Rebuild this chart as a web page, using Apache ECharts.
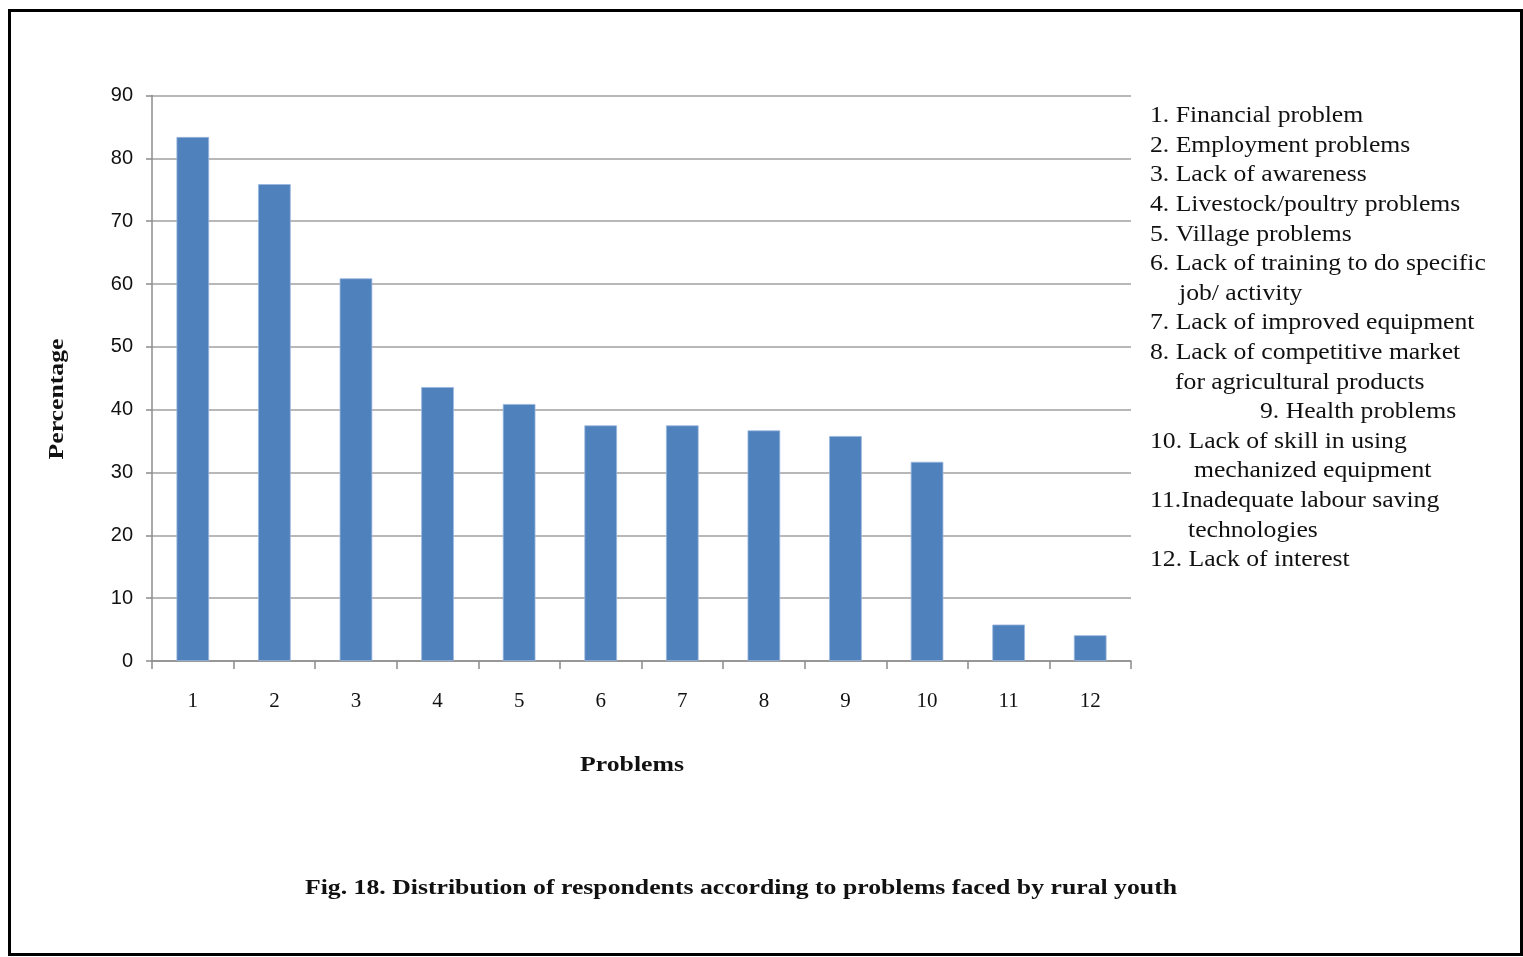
<!DOCTYPE html>
<html>
<head>
<meta charset="utf-8">
<script src="https://cdn.jsdelivr.net/npm/echarts@6/dist/echarts.min.js"></script>
<style>
  html, body { margin: 0; padding: 0; background: #fff; }
  #frame { position: absolute; left: 8px; top: 9px; width: 1509px; height: 941px; border: 3px solid #000; box-sizing: content-box; }
  #chart { position: absolute; left: 0; top: 0; width: 1523px; height: 957px; }
</style>
</head>
<body>
<div id="frame"></div>
<div id="chart"></div>
<script>
// Problem numbers along the x axis
const categories = ['1', '2', '3', '4', '5', '6', '7', '8', '9', '10', '11', '12'];
// Percentage of respondents facing each problem
const percentages = [83.4, 75.9, 60.9, 43.6, 40.9, 37.5, 37.5, 36.7, 35.8, 31.7, 5.8, 4.1];
// Key to the problem numbers (one entry per printed line, with its indent)
const keyLines = [
  ['1. Financial problem', 0],
  ['2. Employment problems', 0],
  ['3. Lack of awareness', 0],
  ['4. Livestock/poultry problems', 0],
  ['5. Village problems', 0],
  ['6. Lack of training to do specific', 0],
  ['job/ activity', 29],
  ['7. Lack of improved equipment', 0],
  ['8. Lack of competitive market', 0],
  ['for agricultural products', 25],
  ['9. Health problems', 110],
  ['10. Lack of skill in using', 0],
  ['mechanized equipment', 44],
  ['11.Inadequate labour saving', 0],
  ['technologies', 38],
  ['12. Lack of interest', 0]
];
const xTitle = 'Problems';
const yTitle = 'Percentage';
const caption = 'Fig. 18. Distribution of respondents according to problems faced by rural youth';

const serif = '"Liberation Serif", "DejaVu Serif", serif';
const sans = '"Liberation Sans", "DejaVu Sans", sans-serif';
// The serif face used here runs narrower than the printed one; widen it a little
const widenKey = 1.07;
const widenTitle = 1.17;

const keyGraphics = keyLines.map((l, i) => ({
  type: 'text',
  x: 1150 + l[1],
  y: 116 + i * 29.6,
  scaleX: widenKey,
  style: { text: l[0], font: '24px ' + serif, fill: '#111', textVerticalAlign: 'middle' }
}));

const titleGraphics = [
  {
    type: 'text', x: 632, y: 765, scaleX: widenTitle,
    style: { text: xTitle, font: 'bold 22px ' + serif, fill: '#111', textAlign: 'center', textVerticalAlign: 'middle' }
  },
  {
    type: 'text', x: 57, y: 399, rotation: Math.PI / 2, scaleX: widenTitle,
    style: { text: yTitle, font: 'bold 22px ' + serif, fill: '#111', textAlign: 'center', textVerticalAlign: 'middle' }
  },
  {
    type: 'text', x: 741, y: 888, scaleX: widenTitle,
    style: { text: caption, font: 'bold 22px ' + serif, fill: '#111', textAlign: 'center', textVerticalAlign: 'middle' }
  }
];

const chart = echarts.init(document.getElementById('chart'));
chart.setOption({
  animation: false,
  grid: { left: 152, right: 392, top: 95.5, bottom: 296, containLabel: false },
  xAxis: {
    type: 'category',
    data: categories,
    axisLine: { lineStyle: { color: '#8c8c8c', width: 1.5 } },
    axisTick: { show: true, alignWithLabel: false, length: 8, lineStyle: { color: '#8c8c8c', width: 1.5 } },
    axisLabel: { fontFamily: serif, fontSize: 21, color: '#111', margin: 30 }
  },
  yAxis: {
    type: 'value',
    min: 0, max: 90, interval: 10,
    axisLine: { show: true, lineStyle: { color: '#8c8c8c', width: 1.5 } },
    axisTick: { show: true, length: 6, lineStyle: { color: '#8c8c8c', width: 1.5 } },
    axisLabel: { fontFamily: sans, fontSize: 20, color: '#111', margin: 19 },
    splitLine: { lineStyle: { color: '#a0a0a0', width: 1.5 } }
  },
  series: [{
    type: 'bar',
    data: percentages,
    barWidth: '40%',
    itemStyle: { color: '#4f81bd', borderColor: '#9bb7de', borderWidth: 0.8 }
  }],
  graphic: keyGraphics.concat(titleGraphics)
});
</script>
</body>
</html>
